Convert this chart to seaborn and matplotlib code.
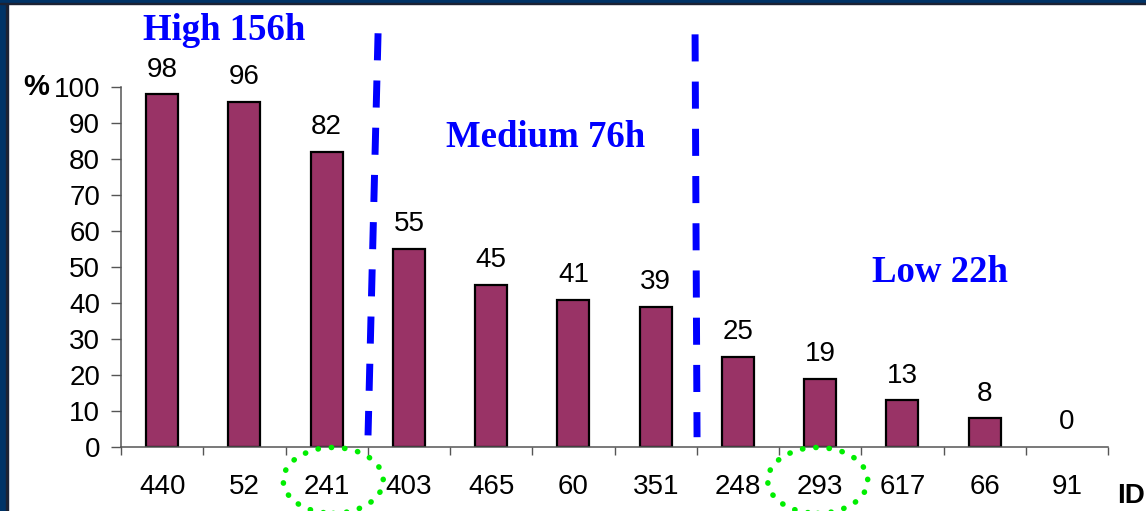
import matplotlib

matplotlib.use('Agg')
import matplotlib.pyplot as plt
import seaborn as sns
import numpy as np
from matplotlib.patches import Ellipse, Rectangle

# data
ids = ['440', '52', '241', '403', '465', '60', '351', '248', '293', '617', '66', '91']
pct = [98, 96, 82, 55, 45, 41, 39, 25, 19, 13, 8, 0]
group_names = ['High 156h', 'Medium 76h', 'Low 22h']
circled = ['241', '293']

sns.set_style('white')
plt.rcParams['font.family'] = ['Liberation Sans', 'DejaVu Sans']
plt.rcParams['text.color'] = 'black'
plt.rcParams['xtick.labelcolor'] = 'black'
plt.rcParams['ytick.labelcolor'] = 'black'

fig = plt.figure(figsize=(11.46, 5.11), dpi=100)
ax = fig.add_axes([0.1056, 0.1247, 0.8613, 0.7045])

sns.barplot(x=ids, y=pct, order=ids, color='#993366', saturation=1,
            edgecolor='black', linewidth=1.6, width=0.39, ax=ax)

# a zero bar shows nothing in the reference
for p in ax.containers[0]:
    if p.get_height() == 0:
        p.set_linewidth(0)

ax.bar_label(ax.containers[0], labels=[str(v) for v in pct],
             padding=8.6, fontsize=20, color='black')

ax.set_ylim(0, 100)
ax.set_xlim(-0.5, len(ids) - 0.5)
ax.set_yticks(range(0, 101, 10))
ax.tick_params(axis='y', labelsize=20, length=7, width=1, color='#555555',
               labelcolor='black', pad=8, left=True)

# ticks at category borders, labels at the centres
ax.set_xticks(np.arange(-0.5, len(ids), 1))
ax.set_xticklabels([])
ax.set_xticks(range(len(ids)), minor=True)
ax.set_xticklabels(ids, minor=True)
ax.tick_params(axis='x', which='major', length=6, width=1, color='#555555',
               bottom=True)
ax.tick_params(axis='x', which='minor', length=0, labelsize=20, pad=19.5,
               labelcolor='black')
ax.set_xlabel('')
ax.set_ylabel('')

sns.despine(ax=ax)
for s in ['left', 'bottom']:
    ax.spines[s].set_color('#555555')
    ax.spines[s].set_linewidth(1.1)

# group separators
ax.plot([2.625, 2.503], [115, 3.3], color='blue', lw=5, dashes=(3.9, 2.9),
        clip_on=False, zorder=5)
ax.plot([6.479, 6.503], [114.7, 2.8], color='blue', lw=5, dashes=(3.9, 2.9),
        clip_on=False, zorder=5)

serif = dict(family=['Liberation Serif', 'DejaVu Serif'], fontweight='bold',
             color='blue', fontsize=26.5, ha='center', va='baseline')
ax.text(0.752, 113.1, group_names[0], clip_on=False, **serif)
ax.text(4.66, 83.4, group_names[1], **serif)
ax.text(9.457, 45.8, group_names[2], **serif)

# green dotted rings round the highlighted ids
for cid, cx in zip(circled, [2.08, 7.97]):
    e = Ellipse((cx, -9.2), 1.216, 18.3, fill=False, edgecolor='#00ee00',
                lw=4, linestyle=(0, (0.05, 2.35)), clip_on=False, zorder=6)
    e.set_capstyle('round')
    ax.add_patch(e)

fig.text(23 / 1146, 1 - 95 / 511, '%', fontsize=21, fontweight='bold',
         ha='left', va='baseline')
fig.text(1117 / 1146, 1 - 503 / 511, 'ID', fontsize=20, fontweight='bold',
         ha='left', va='baseline')

# slide frame at the left and top
fig.patches.append(Rectangle((0, 0), 6 / 1146, 1, transform=fig.transFigure,
                             color='#003366', zorder=10))
fig.patches.append(Rectangle((6 / 1146, 0), 1.5 / 1146, 1, transform=fig.transFigure,
                             color='#1c2233', zorder=10))
fig.patches.append(Rectangle((0, 1 - 3 / 511), 1, 3 / 511, transform=fig.transFigure,
                             color='#003366', zorder=10))
fig.patches.append(Rectangle((0, 1 - 4.5 / 511), 1, 1.5 / 511, transform=fig.transFigure,
                             color='#1c2233', zorder=10))

fig.savefig('out.png', dpi=100)
